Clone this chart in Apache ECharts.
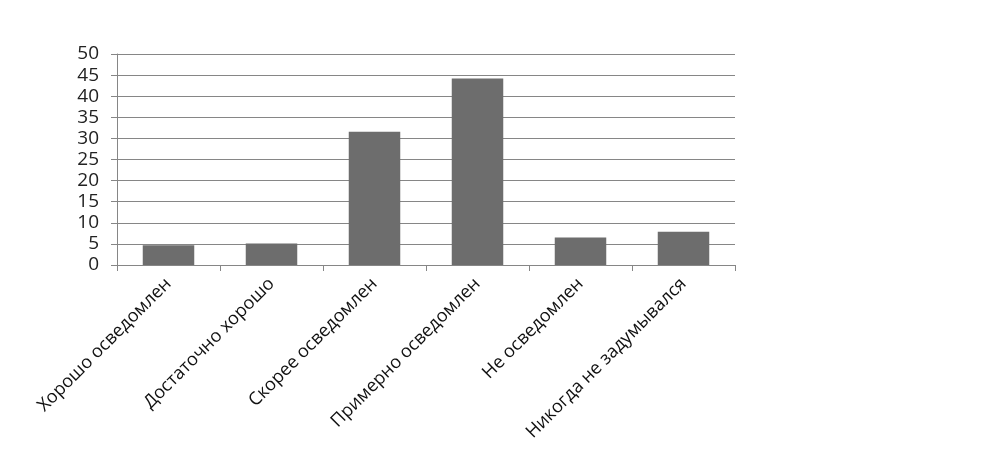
<!DOCTYPE html>
<html><head><meta charset="utf-8">
<script src="https://cdn.jsdelivr.net/npm/echarts@6/dist/echarts.min.js"></script>
<style>html,body{margin:0;padding:0;background:#fff}#c{width:992px;height:456px}</style>
</head><body><div id="c"></div>
<script>
const categories = ["Хорошо осведомлен","Достаточно хорошо","Скорее осведомлен","Примерно осведомлен","Не осведомлен","Никогда не задумывался"];
const values = [4.7, 5.1, 31.6, 44.2, 6.5, 7.9];
const yMin = 0, yMax = 50, yStep = 5;
const chart = echarts.init(document.getElementById('c'));
chart.setOption({
  animation:false,
  grid:{left:117,right:257,top:54,bottom:191},
  xAxis:{type:'category',data:categories,
    axisLine:{lineStyle:{color:'#868686',width:1}},
    axisTick:{show:true,length:6,lineStyle:{color:'#868686'}},
    axisLabel:{rotate:45,interval:0,margin:16,color:'#111',fontFamily:'Open Sans',fontSize:18}},
  yAxis:{type:'value',min:yMin,max:yMax,interval:yStep,
    axisLine:{show:true,lineStyle:{color:'#868686'}},
    axisTick:{show:true,length:6,lineStyle:{color:'#868686'}},
    splitLine:{lineStyle:{color:'#868686',width:1}},
    axisLabel:{margin:18,color:'#222',fontFamily:'Open Sans',fontSize:19}},
  series:[{type:'bar',data:values,barWidth:'50%',itemStyle:{color:'#6d6d6d'}}]
});
</script></body></html>
